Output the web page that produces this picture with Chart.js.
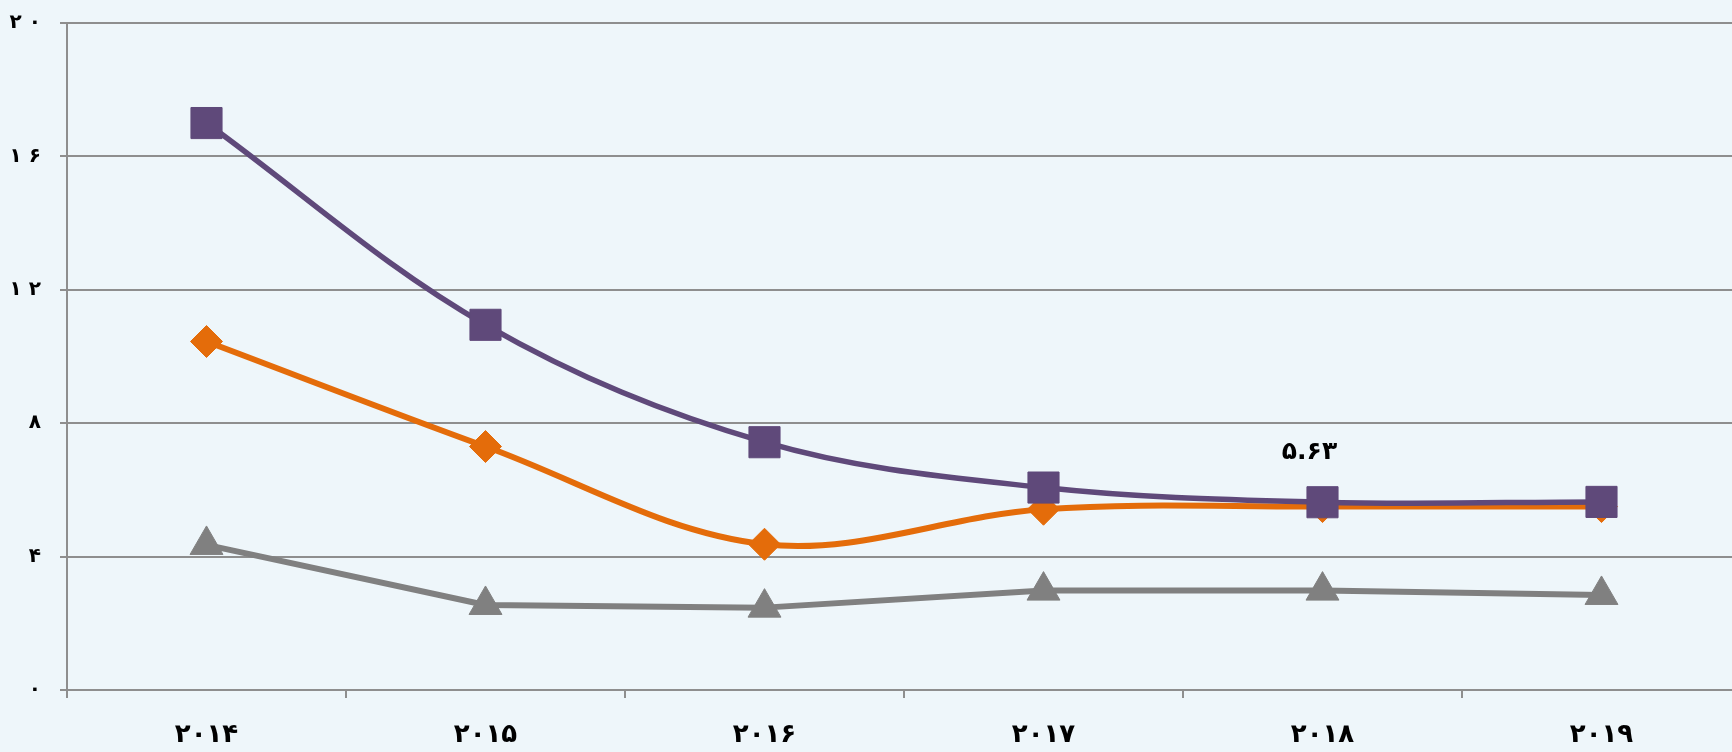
<!DOCTYPE html>
<html>
<head>
<meta charset="utf-8">
<script src="https://cdn.jsdelivr.net/npm/chart.js@4/dist/chart.umd.min.js"></script>
<style>
  html, body { margin: 0; padding: 0; background: #eef6fa; overflow: hidden; }
</style>
</head>
<body>
<canvas id="nemudar" width="1745" height="752"></canvas>
<script>
// ---------- Dades ----------
const salha = ["۲۰۱۴", "۲۰۱۵", "۲۰۱۶", "۲۰۱۷", "۲۰۱۸", "۲۰۱۹"];
const seriBanafsh = [17.0, 10.95, 7.43, 6.07, 5.63, 5.64];
const seriNarenji = [10.45, 7.3, 4.37, 5.42, 5.5, 5.5];
const seriTousi = [4.35, 2.55, 2.47, 2.98, 2.98, 2.85];
const tikY = [0, 4, 8, 12, 16, 20];
const indexBarchasb = 4; // punt amb etiqueta (۲۰۱۸, sèrie lila)

const farsi = n => String(n).replace(/\d/g, d => "۰۱۲۳۴۵۶۷۸۹"[d]);

const fontFamily = "'DejaVu Sans', sans-serif";
const rangeKhat = "#8e8e8e";

// ---------- Etiqueta del valor ----------
const barchasbPlugin = {
  id: "barchasb",
  afterDatasetsDraw(chart) {
    const p = chart.getDatasetMeta(0).data[indexBarchasb];
    const ctx = chart.ctx;
    ctx.save();
    ctx.font = "bold 25px " + fontFamily;
    ctx.fillStyle = "#000";
    ctx.textAlign = "center";
    ctx.textBaseline = "middle";
    ctx.fillText(farsi(seriBanafsh[indexBarchasb]), p.x - 13, p.y - 50);
    ctx.restore();
  }
};

new Chart(document.getElementById("nemudar"), {
  type: "line",
  data: {
    labels: salha,
    datasets: [
      {
        data: seriBanafsh,
        borderColor: "#5f497a",
        backgroundColor: "#5f497a",
        borderWidth: 5.5,
        borderJoinStyle: "round",
        tension: 0.35,
        pointStyle: "rect",
        pointRadius: 22,
        pointBorderWidth: 1,
        pointBackgroundColor: "#5f497a",
        pointBorderColor: "#5f497a"
      },
      {
        data: seriNarenji,
        borderColor: "#e46c0a",
        backgroundColor: "#e46c0a",
        borderWidth: 6,
        borderJoinStyle: "round",
        tension: 0.35,
        pointStyle: "rectRot",
        pointRadius: 16,
        pointBorderWidth: 1,
        pointBackgroundColor: "#e46c0a",
        pointBorderColor: "#e46c0a"
      },
      {
        data: seriTousi,
        borderColor: "#808080",
        backgroundColor: "#808080",
        borderWidth: 6,
        borderJoinStyle: "round",
        tension: 0,
        pointStyle: "triangle",
        pointRadius: 19,
        pointBorderWidth: 1,
        pointBackgroundColor: "#808080",
        pointBorderColor: "#808080"
      }
    ]
  },
  options: {
    responsive: false,
    animation: false,
    layout: { autoPadding: false, padding: { top: 23, right: 4, left: 0, bottom: 0 } },
    plugins: {
      legend: { display: false },
      tooltip: { enabled: false }
    },
    scales: {
      x: {
        offset: true,
        grid: {
          offset: true,
          drawOnChartArea: false,
          tickLength: 8,
          color: rangeKhat,
          lineWidth: 2
        },
        border: { color: rangeKhat, width: 2 },
        ticks: {
          padding: 22,
          color: "#000",
          font: { family: fontFamily, size: 26, weight: "bold" },
          maxRotation: 0
        },
        afterFit: s => { s.height = 62; }
      },
      y: {
        min: 0,
        max: 20,
        afterBuildTicks: s => { s.ticks = tikY.map(v => ({ value: v })); },
        grid: {
          color: rangeKhat,
          lineWidth: 2,
          tickLength: 7
        },
        border: { color: rangeKhat, width: 2 },
        ticks: {
          padding: 19,
          color: "#000",
          font: { family: fontFamily, size: 20, weight: "bold" },
          callback: v => farsi(v).split("").join(" ")
        },
        afterFit: s => {
          s.width = 67;
          s.paddingTop = 0;
          s.paddingBottom = 0;
        }
      }
    }
  },
  plugins: [barchasbPlugin]
});
</script>
</body>
</html>
